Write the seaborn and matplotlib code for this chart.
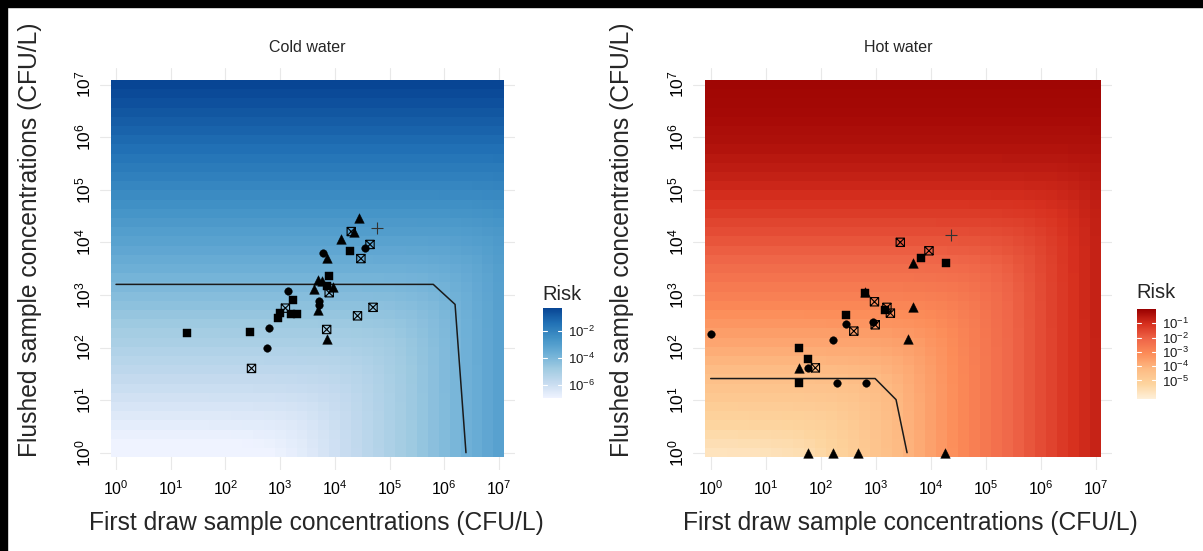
import numpy as np
import pandas as pd
import matplotlib
matplotlib.use("Agg")
import matplotlib.pyplot as plt
import seaborn as sns
from matplotlib.path import Path
from matplotlib.colors import LinearSegmentedColormap, Normalize
from matplotlib.cm import ScalarMappable
from matplotlib.patches import Rectangle

# ---------------- data ----------------
cold_first = [28000, 20000, 22000, 59000, 13000, 19000, 44000, 36000, 30000, 6000,
              7100, 7900, 5000, 5900, 4100, 7100, 9300, 7900, 1400, 1700,
              1250, 1000, 930, 1600, 2000, 5100, 5100, 5000, 50000, 26000,
              7100, 7100, 620, 280, 575, 300, 20]
cold_flushed = [29000, 16000, 16000, 19000, 11500, 6900, 9100, 7800, 4900, 6200,
                5100, 2300, 1900, 1800, 1300, 1450, 1400, 1100, 1200, 800,
                560, 460, 370, 440, 440, 780, 630, 510, 580, 400,
                220, 145, 240, 195, 100, 40, 185]
cold_shape = ["tri", "sqx", "tri", "plus", "tri", "sq", "sqx", "circ", "sqx", "circ",
              "tri", "sq", "tri", "tri", "tri", "sq", "tri", "sqx", "circ", "sq",
              "sqx", "sq", "sq", "sq", "sq", "circ", "circ", "tri", "sqx", "sqx",
              "sqx", "tri", "circ", "sq", "circ", "sqx", "sq"]

hot_first = [1, 40, 40, 59, 80, 59, 40, 195, 660, 170,
             290, 290, 400, 650, 650, 950, 890, 980, 1600, 1450,
             1850, 4700, 3800, 2800, 9300, 6600, 4700, 18600, 23000,
             59, 170, 480, 18000]
hot_flushed = [180, 100, 41, 41, 41, 60, 21, 21, 21, 138,
               420, 275, 205, 1150, 1070, 740, 300, 270, 580, 510,
               450, 600, 145, 10000, 6900, 5000, 4100, 4100, 13800,
               1, 1, 1, 1]
hot_shape = ["circ", "sq", "tri", "circ", "sqx", "sq", "sq", "circ", "circ", "circ",
             "sq", "circ", "sqx", "tri", "sq", "sqx", "circ", "sqx", "sqx", "sq",
             "sqx", "tri", "tri", "sqx", "sqx", "sq", "tri", "sq", "plus",
             "tri", "tri", "tri", "tri"]

# iso-risk contour lines
cold_line_first = [1, 631000, 1580000, 2500000]
cold_line_flushed = [1585, 1585, 660, 1]
hot_line_first = [1, 977, 2344, 3715]
hot_line_flushed = [25.7, 25.7, 10.2, 1]

# dose-response surface parameters:
# dose = w_first * first + flushed ; risk = 1 - (1 + dose / beta) ** -alpha
cold_w_first, cold_alpha, cold_beta = 10 ** -2.95, 50.0, 50.0 * 10 ** 7.2
hot_w_first, hot_alpha, hot_beta = 10 ** -1.8, 0.35, 0.35 * 10 ** 5.8
cold_risk_limits = (-6.98, -0.32)   # log10 risk
hot_risk_limits = (-6.3, 0.0)
cold_cbar_ticks = [-2, -4, -6]
hot_cbar_ticks = [-1, -2, -3, -4, -5]
axis_ticks = [0, 1, 2, 3, 4, 5, 6, 7]

blues7 = ["#eff3ff", "#c6dbef", "#9ecae1", "#6baed6", "#4292c6", "#2171b5", "#084594"]
orrd7 = ["#fef0d9", "#fdd49e", "#fdbb84", "#fc8d59", "#ef6548", "#d7301f", "#990000"]

# ---------------- figure ----------------
W, H, DPI = 1203, 551, 100
sns.set_theme(style="white")
plt.rcParams["font.family"] = ["Liberation Sans", "DejaVu Sans"]
plt.rcParams["mathtext.fontset"] = "custom"
plt.rcParams["mathtext.rm"] = "Liberation Sans"
plt.rcParams["mathtext.it"] = "Liberation Sans:italic"
plt.rcParams["mathtext.bf"] = "Liberation Sans:bold"

fig = plt.figure(figsize=(W / DPI, H / DPI), dpi=DPI)
fig.patch.set_facecolor("white")


def fx(px):
    return px / W


def fy(py):
    return 1 - py / H


def sqx_marker():
    verts = [(-1, -1), (1, -1), (1, 1), (-1, 1), (-1, -1),
             (-1, -1), (1, 1), (-1, 1), (1, -1)]
    codes = [Path.MOVETO, Path.LINETO, Path.LINETO, Path.LINETO, Path.CLOSEPOLY,
             Path.MOVETO, Path.LINETO, Path.MOVETO, Path.LINETO]
    return Path(verts, codes)


SQX = sqx_marker()


def panel(box, x0px, dxpx, first, flushed, shape, lfirst, lflush, wf, alpha, beta, lims, colors):
    left, top, right, bottom = box
    ax = fig.add_axes([fx(left), fy(bottom), (right - left) / W, (bottom - top) / H])
    y0px, dypx = 452.7, 52.6
    xl = ((left - x0px) / dxpx, (right - x0px) / dxpx)
    yl = ((y0px - bottom) / dypx, (y0px - top) / dypx)
    ax.set_xscale("log")
    ax.set_yscale("log")
    ax.set_xlim(10 ** xl[0], 10 ** xl[1])
    ax.set_ylim(10 ** yl[0], 10 ** yl[1])

    cmap = LinearSegmentedColormap.from_list("pal", colors)
    norm = Normalize(*lims)
    xc = np.arange(0, 7.0001, 0.2)
    yc = np.arange(0, 7.0001, 0.175)
    xe = np.concatenate([xc - 0.1, [xc[-1] + 0.1]])
    ye = np.concatenate([yc - 0.0875, [yc[-1] + 0.0875]])
    X, Y = np.meshgrid(10 ** xc, 10 ** yc)
    dose = wf * X + Y
    risk = -np.expm1(-alpha * np.log1p(dose / beta))
    ax.pcolormesh(10 ** xe, 10 ** ye, np.log10(risk), cmap=cmap, norm=norm,
                  shading="flat", zorder=1, antialiased=False, linewidth=0)

    sns.lineplot(x=lfirst, y=lflush, ax=ax, color="#1a1a1a", lw=1.1, zorder=3,
                 sort=False, estimator=None)

    df = pd.DataFrame({"first": first, "flushed": flushed, "shape": shape})
    styles = {
        "circ": dict(marker="o", s=30, color="black", edgecolor="black", linewidth=0.3),
        "sq": dict(marker="s", s=30, color="black", edgecolor="black", linewidth=0.3),
        "tri": dict(marker="^", s=48, color="black", edgecolor="black", linewidth=0.3),
        "sqx": dict(marker=SQX, s=36, facecolor="none", edgecolor="black", linewidth=0.8),
        "plus": dict(marker="+", s=80, color="#333333", linewidth=0.8),
    }
    for key, kw in styles.items():
        sub = df[df["shape"] == key]
        if len(sub):
            sns.scatterplot(data=sub, x="first", y="flushed", ax=ax, zorder=4,
                            legend=False, **kw)

    ax.set_xticks([10.0 ** t for t in axis_ticks])
    ax.set_yticks([10.0 ** t for t in axis_ticks])
    ax.set_xticklabels([r"$10^{%d}$" % t for t in axis_ticks])
    ax.set_yticklabels([r"$10^{%d}$" % t for t in axis_ticks], rotation=90, va="center")
    ax.minorticks_off()
    ax.set_axisbelow(True)
    ax.grid(True, which="major", color="#e8e8e8", lw=0.8)
    for s in ax.spines.values():
        s.set_visible(False)
    ax.tick_params(axis="x", length=0, pad=7, labelsize=11.5, labelcolor="black")
    ax.tick_params(axis="y", length=0, pad=5, labelsize=12.5, labelcolor="black")
    ax.set_xlabel("")
    ax.set_ylabel("")
    return ax, cmap, norm


axL, cmapL, normL = panel((100, 68, 515, 470), 116.0, 54.7, cold_first, cold_flushed, cold_shape,
                          cold_line_first, cold_line_flushed, cold_w_first, cold_alpha, cold_beta,
                          cold_risk_limits, blues7)
axR, cmapR, normR = panel((693, 68, 1112, 470), 710.7, 55.0, hot_first, hot_flushed, hot_shape,
                          hot_line_first, hot_line_flushed, hot_w_first, hot_alpha, hot_beta,
                          hot_risk_limits, orrd7)


def cbar(box, cmap, norm, ticks, title_xy):
    left, top, right, bottom = box
    cax = fig.add_axes([fx(left), fy(bottom), (right - left) / W, (bottom - top) / H])
    cb = fig.colorbar(ScalarMappable(norm=norm, cmap=cmap), cax=cax)
    cb.outline.set_visible(False)
    cb.set_ticks(ticks)
    cb.set_ticklabels([r"$10^{%d}$" % t for t in ticks])
    cax.tick_params(length=0, pad=4, labelsize=9.5, labelcolor="#1a1a1a")
    for t in ticks:
        cax.plot([0, 0.2], [t, t], color="white", lw=0.8, transform=cax.get_yaxis_transform())
        cax.plot([0.8, 1.0], [t, t], color="white", lw=0.8, transform=cax.get_yaxis_transform())
    fig.text(fx(title_xy[0]), fy(title_xy[1]), "Risk", ha="left", va="center", size=14.5)


cbar((543, 308, 562, 398), cmapL, normL, cold_cbar_ticks, (542, 295))
cbar((1137, 309, 1156, 399), cmapR, normR, hot_cbar_ticks, (1136, 293))

# titles and axis titles
fig.text(fx(307), fy(47), "Cold water", ha="center", va="center", size=11.5)
fig.text(fx(898), fy(47), "Hot water", ha="center", va="center", size=11.5)
ylab = "Flushed sample concentrations (CFU/L)"
xlab = "First draw sample concentrations (CFU/L)"
fig.text(fx(30), fy(240), ylab, rotation=90, ha="center", va="center", size=17.7)
fig.text(fx(622), fy(240), ylab, rotation=90, ha="center", va="center", size=17.7)
fig.text(fx(316), fy(523), xlab, ha="center", va="center", size=17.7)
fig.text(fx(910), fy(523), xlab, ha="center", va="center", size=17.7)

# black frame on top and left edges of the original screenshot
fig.patches.append(Rectangle((0, 1 - 7 / H), 1, 7 / H, transform=fig.transFigure,
                             color="black", zorder=10))
fig.patches.append(Rectangle((0, 0), 7 / W, 1, transform=fig.transFigure,
                             color="black", zorder=10))

fig.savefig("out.png", dpi=DPI)
